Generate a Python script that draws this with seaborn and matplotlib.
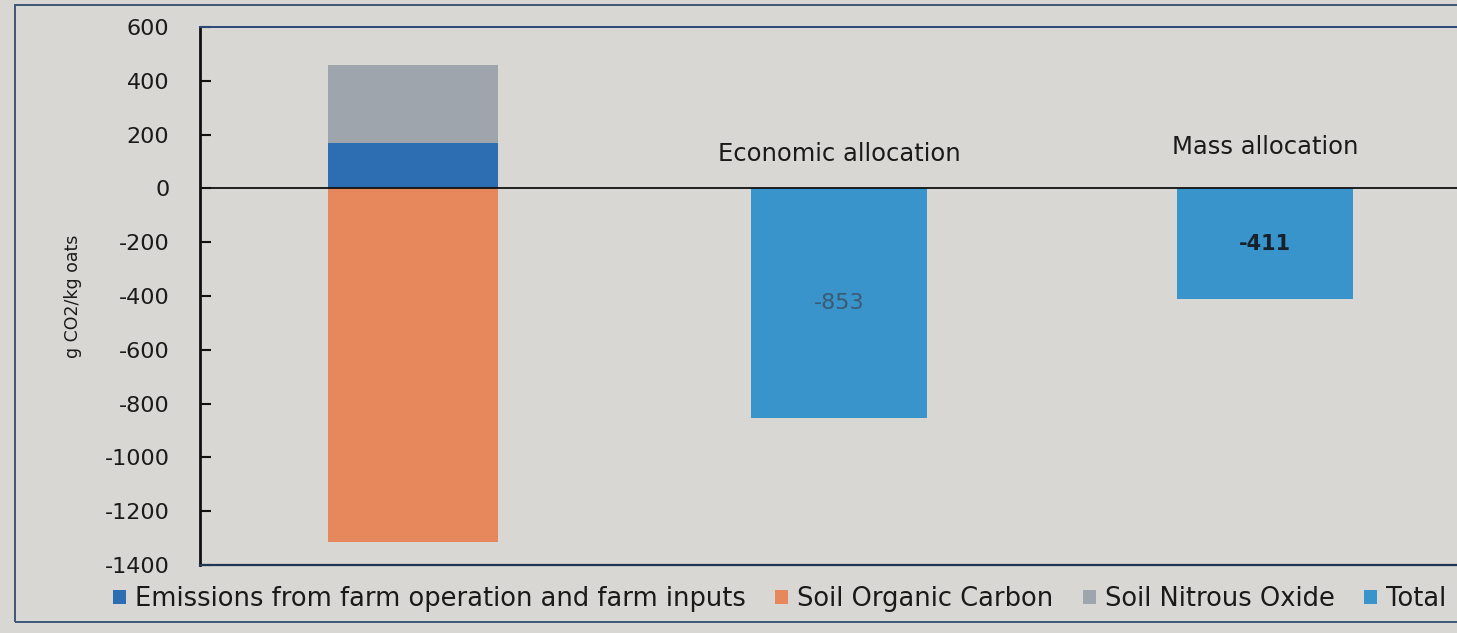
import matplotlib
matplotlib.use("Agg")
import matplotlib.pyplot as plt
from matplotlib.patches import Rectangle, Patch
import seaborn as sns
import pandas as pd

# Carbon balance of oats, g CO2 per kg oats
categories = ["Components", "Economic allocation", "Mass allocation"]
farm_emissions = 170      # emissions from farm operation and farm inputs
soil_nitrous_oxide = 290
soil_organic_carbon = -1313
totals = {"Economic allocation": -853, "Mass allocation": -411}

series_names = ["Emissions from farm operation and farm inputs",
                "Soil Organic Carbon", "Soil Nitrous Oxide", "Total"]
colors = {"Emissions from farm operation and farm inputs": "#2d6db2",
          "Soil Organic Carbon": "#e6875c",
          "Soil Nitrous Oxide": "#9ea5ad",
          "Total": "#3894cb"}

yticks = list(range(-1400, 601, 200))

sns.set_theme(style="white")
plt.rcParams["font.family"] = ["DejaVu Sans"]

paper = "#d9d7d3"
ink = "#1a1a1a"
fig = plt.figure(figsize=(14.57, 6.33), dpi=100, facecolor=paper)
ax = fig.add_axes([200 / 1457, 68 / 633, 1278 / 1457, 538 / 633])
ax.set_facecolor(paper)

# outer chart frame
fig.patches.append(Rectangle((15 / 1457, 11 / 633), 1.2, 617 / 633,
                             transform=fig.transFigure, fill=False,
                             edgecolor="#3f5678", linewidth=1.4, zorder=0))

# stacked component bar: positive part drawn as cumulative layers
comp = categories[0]
positive_top = farm_emissions + soil_nitrous_oxide
layers = [
    (positive_top, "Soil Nitrous Oxide"),
    (farm_emissions, "Emissions from farm operation and farm inputs"),
    (soil_organic_carbon, "Soil Organic Carbon"),
]
for value, name in layers:
    df = pd.DataFrame({"cat": [comp], "val": [value]})
    sns.barplot(data=df, x="cat", y="val", order=categories, color=colors[name],
                saturation=1, width=0.4, ax=ax, linewidth=0, errorbar=None)

tot_df = pd.DataFrame({"cat": list(totals.keys()), "val": list(totals.values())})
sns.barplot(data=tot_df, x="cat", y="val", order=categories, color=colors["Total"],
            saturation=1, width=0.415, ax=ax, linewidth=0, errorbar=None)

# value labels inside total bars, allocation names above the zero line
label_style = {"Economic allocation": dict(color="#3c5a70", fontweight="normal",
                                           fontsize=16),
               "Mass allocation": dict(color="#17212c", fontweight="bold",
                                       fontsize=15)}
name_height = {"Economic allocation": 128, "Mass allocation": 155}
for cat, val in totals.items():
    i = categories.index(cat)
    ax.text(i, val / 2, f"{val}", ha="center", va="center", **label_style[cat])
    ax.text(i, name_height[cat], cat, ha="center", va="center", fontsize=17.5,
            color=ink)

ax.axhline(0, color="#111111", linewidth=1.3, zorder=3)

ax.set_ylim(-1400, 600)
ax.set_xlim(-0.5, 2.5)
ax.set_yticks(yticks)
ax.set_yticklabels([str(t) for t in yticks], fontsize=16, color=ink)
ax.set_xticks([])
ax.set_xlabel("")
ax.set_ylabel("g CO2/kg oats", fontsize=12.5, color=ink, labelpad=16)
ax.tick_params(axis="y", direction="in", length=8, width=1.5, color="#111111",
               left=True, pad=22)

ax.spines["left"].set_color("#111111")
ax.spines["left"].set_linewidth(2)
ax.spines["bottom"].set_color("#1f3550")
ax.spines["bottom"].set_linewidth(1.6)
ax.spines["top"].set_color("#2c4a78")
ax.spines["top"].set_linewidth(1.4)
ax.spines["right"].set_visible(False)

handles = [Patch(facecolor=colors[n], edgecolor="none", label=n) for n in series_names]
fig.legend(handles=handles, loc="center left", bbox_to_anchor=(90 / 1457, 34 / 633),
           ncol=4, frameon=False, fontsize=18.5, handlelength=0.5, handleheight=0.5,
           handletextpad=0.35, columnspacing=1.15, labelcolor=ink)

fig.savefig("out.png", dpi=100, facecolor=paper)
